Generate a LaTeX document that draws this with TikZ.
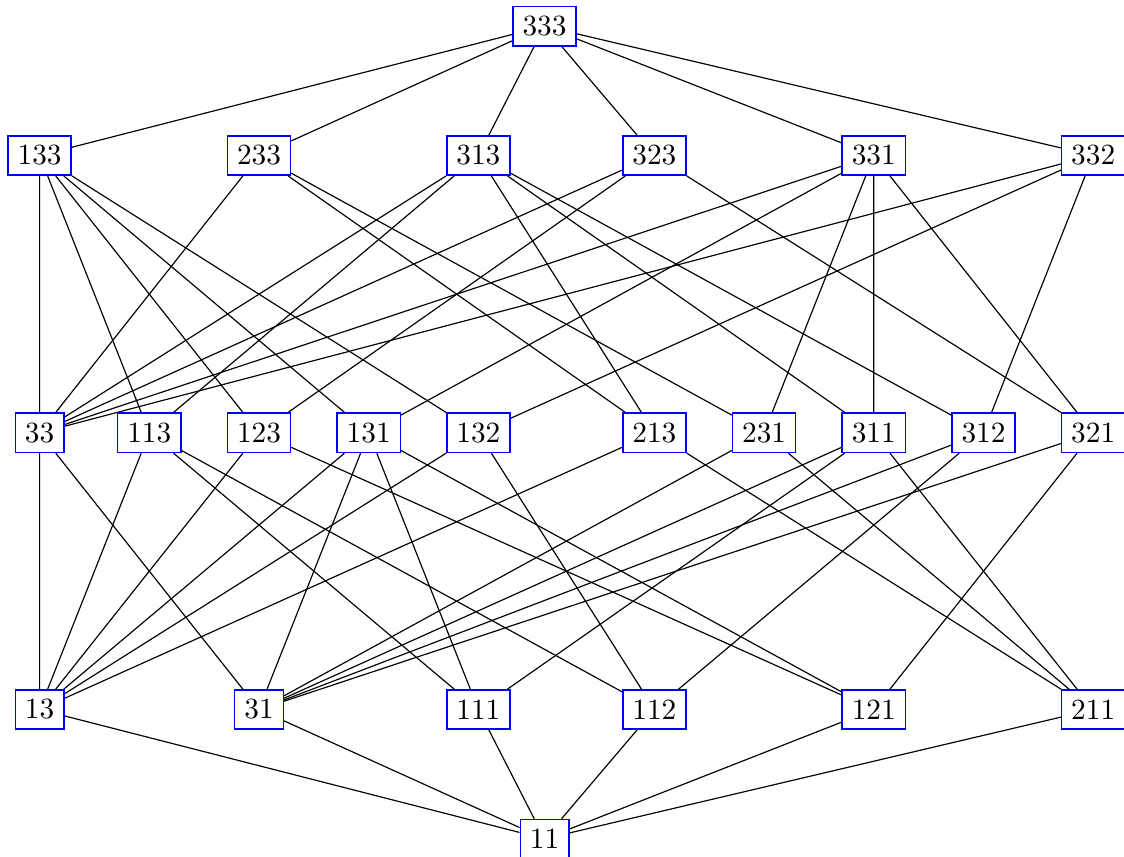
\documentclass[tikz,border=0pt]{standalone}
\usepackage{tikz}
\usetikzlibrary{backgrounds}

\begin{document}
\begin{tikzpicture}[
  x=0.3413pt,
  y=-0.3413pt,
  word/.style={draw=blue, fill=white, line width=0.5pt, inner sep=3.28pt},
  edge/.style={line width=0.4pt}
]
  \useasboundingbox (0,0) rectangle (1124,856);

  % Top and bottom of the lattice.
  \node[word] at (544.5,26.2)   (w333) {333};
  \node[word] at (544.5,838.8)  (w11)  {11};

  % Words one step below the top.
  \node[word] at (39.6,155.5)   (w133) {133};
  \node[word] at (259.0,155.5)  (w233) {233};
  \node[word] at (478.4,155.5)  (w313) {313};
  \node[word] at (654.4,155.5)  (w323) {323};
  \node[word] at (873.8,155.5)  (w331) {331};
  \node[word] at (1093.2,155.5) (w332) {332};

  % Middle row.
  \node[word] at (39.6,432.8)   (w33)  {33};
  \node[word] at (149.3,432.8)  (w113) {113};
  \node[word] at (259.0,432.8)  (w123) {123};
  \node[word] at (368.7,432.8)  (w131) {131};
  \node[word] at (478.4,432.8)  (w132) {132};
  \node[word] at (654.4,432.8)  (w213) {213};
  \node[word] at (764.1,432.8)  (w231) {231};
  \node[word] at (873.8,432.8)  (w311) {311};
  \node[word] at (983.5,432.8)  (w312) {312};
  \node[word] at (1093.2,432.8) (w321) {321};

  % Words one step above the bottom.
  \node[word] at (39.6,709.5)   (w13)  {13};
  \node[word] at (259.0,709.5)  (w31)  {31};
  \node[word] at (478.4,709.5)  (w111) {111};
  \node[word] at (654.4,709.5)  (w112) {112};
  \node[word] at (873.8,709.5)  (w121) {121};
  \node[word] at (1093.2,709.5) (w211) {211};

  \begin{pgfonlayer}{background}
  % Covers from the top.
  \draw[edge] (w333) -- (w133)  (w333) -- (w233)  (w333) -- (w313)
              (w333) -- (w323)  (w333) -- (w331)  (w333) -- (w332);

  % Covers into the middle row.
  \draw[edge] (w133) -- (w33)   (w133) -- (w113)  (w133) -- (w123)
              (w133) -- (w131)  (w133) -- (w132);
  \draw[edge] (w233) -- (w33)   (w233) -- (w213)  (w233) -- (w231);
  \draw[edge] (w313) -- (w33)   (w313) -- (w113)  (w313) -- (w213)
              (w313) -- (w311)  (w313) -- (w312);
  \draw[edge] (w323) -- (w33)   (w323) -- (w123)  (w323) -- (w321);
  \draw[edge] (w331) -- (w33)   (w331) -- (w131)  (w331) -- (w231)
              (w331) -- (w311)  (w331) -- (w321);
  \draw[edge] (w332) -- (w33)   (w332) -- (w132)  (w332) -- (w312);

  % Covers into the lower row.
  \draw[edge] (w33)  -- (w13)   (w33)  -- (w31);
  \draw[edge] (w113) -- (w13)   (w113) -- (w111)  (w113) -- (w112);
  \draw[edge] (w123) -- (w13)   (w123) -- (w121);
  \draw[edge] (w131) -- (w13)   (w131) -- (w31)   (w131) -- (w111)
              (w131) -- (w121);
  \draw[edge] (w132) -- (w13)   (w132) -- (w112);
  \draw[edge] (w213) -- (w13)   (w213) -- (w211);
  \draw[edge] (w231) -- (w31)   (w231) -- (w211);
  \draw[edge] (w311) -- (w31)   (w311) -- (w111)  (w311) -- (w211);
  \draw[edge] (w312) -- (w31)   (w312) -- (w112);
  \draw[edge] (w321) -- (w31)   (w321) -- (w121);

  % Covers down to the bottom.
  \draw[edge] (w13)  -- (w11)   (w31)  -- (w11)   (w111) -- (w11)
              (w112) -- (w11)   (w121) -- (w11)   (w211) -- (w11);
  \end{pgfonlayer}

\end{tikzpicture}
\end{document}
